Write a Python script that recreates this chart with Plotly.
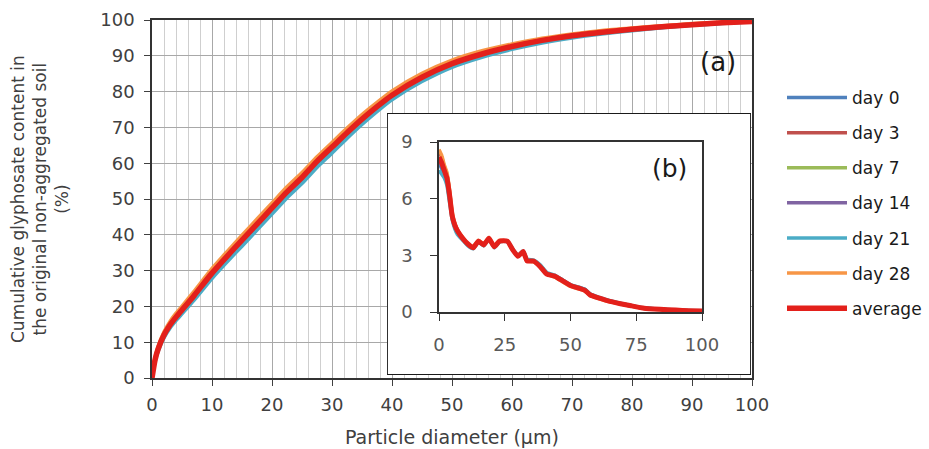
import plotly.graph_objects as go

# ---------------- data ----------------
series_names = ["day 0", "day 3", "day 7", "day 14", "day 21", "day 28", "average"]
series_colors = ["#4F81BD", "#C0504D", "#9BBB59", "#8064A2", "#4BACC6", "#F79646", "#E3201B"]

# (a) cumulative glyphosate content (%) vs particle diameter (um)
diam = [0, 0.5, 1, 2, 3, 4, 5, 7, 10, 12.5, 15, 17.5, 20, 22.5, 25, 27.5, 30, 32.5, 35, 37.5,
        40, 45, 50, 55, 60, 65, 70, 75, 80, 85, 90, 95, 100]
cum_day0 = [0, 4.8, 7.7, 11.6, 14.3, 16.5, 18.4, 22.3, 28.6, 33.2, 37.7, 42.2, 46.7, 51.2, 55.2, 59.7, 63.7,
            67.8, 71.6, 75.1, 78.4, 83.4, 87.3, 90.1, 92.2, 94.0, 95.3, 96.4, 97.2, 97.9, 98.6, 99.1, 99.6]
cum_day3 = [0, 5.3, 8.4, 12.4, 15.2, 17.5, 19.5, 23.6, 29.9, 34.6, 39.2, 43.7, 48.2, 52.7, 56.7, 61.2, 65.2,
            69.1, 72.9, 76.4, 79.6, 84.6, 88.3, 91.0, 93.0, 94.6, 95.9, 96.9, 97.6, 98.3, 98.9, 99.3, 99.7]
cum_day7 = [0, 5.1, 8.1, 12.1, 14.9, 17.1, 19.1, 23.1, 29.4, 34.1, 38.6, 43.1, 47.6, 52.1, 56.1, 60.6, 64.6,
            68.6, 72.4, 75.9, 79.1, 84.1, 87.9, 90.6, 92.7, 94.4, 95.7, 96.7, 97.5, 98.2, 98.8, 99.3, 99.7]
cum_day14 = [0, 5.0, 8.0, 11.9, 14.7, 16.9, 18.9, 22.9, 29.2, 33.9, 38.4, 42.9, 47.4, 51.9, 55.9, 60.4, 64.4,
             68.4, 72.2, 75.7, 78.9, 83.9, 87.7, 90.4, 92.5, 94.2, 95.5, 96.5, 97.3, 98.0, 98.7, 99.2, 99.6]
cum_day21 = [0, 4.5, 7.3, 11.2, 13.9, 16.0, 17.9, 21.7, 27.8, 32.4, 36.8, 41.3, 45.8, 50.3, 54.3, 58.8, 62.8,
             66.9, 70.8, 74.4, 77.7, 82.8, 86.8, 89.6, 91.8, 93.6, 95.0, 96.1, 97.0, 97.8, 98.5, 99.0, 99.5]
cum_day28 = [0, 5.6, 8.8, 12.9, 15.8, 18.1, 20.1, 24.2, 30.6, 35.3, 39.9, 44.4, 48.9, 53.4, 57.4, 61.8, 65.8,
             69.8, 73.6, 77.0, 80.2, 85.1, 88.8, 91.4, 93.3, 94.9, 96.1, 97.1, 97.8, 98.4, 99.0, 99.4, 99.8]
cum_avg = [0, 5.0, 8.0, 12.0, 14.8, 17.0, 19.0, 23.0, 29.3, 34.0, 38.5, 43.0, 47.5, 52.0, 56.0, 60.5, 64.5,
           68.5, 72.3, 75.8, 79.0, 84.0, 87.8, 90.5, 92.6, 94.3, 95.6, 96.6, 97.4, 98.1, 98.7, 99.2, 99.6]

# (b) distribution inset
diam_b = [0, 1, 2, 3, 4, 5, 6, 7, 9, 11, 13, 15, 17, 19, 21, 23, 26, 28, 30, 32, 33.5, 36, 38.5, 41,
          44, 47, 50, 53.5, 55.5, 57.5, 61, 65, 69, 73, 78, 84, 90, 95, 100]
dist_day0 = [7.9, 7.6, 7.3, 6.9, 6.0, 5.0, 4.5, 4.2, 3.85, 3.55, 3.4, 3.7, 3.55, 3.85, 3.45, 3.75, 3.75, 3.3, 2.95, 3.2,
             2.75, 2.7, 2.45, 2.05, 1.9, 1.7, 1.4, 1.3, 1.2, 0.95, 0.75, 0.58, 0.45, 0.34, 0.21, 0.14, 0.1, 0.07, 0.05]
dist_day3 = [8.5, 8.2, 7.7, 7.3, 6.4, 5.2, 4.7, 4.35, 3.9, 3.6, 3.4, 3.75, 3.55, 3.9, 3.45, 3.75, 3.75, 3.3, 2.95, 3.2,
             2.7, 2.7, 2.4, 2.0, 1.9, 1.65, 1.4, 1.25, 1.15, 0.9, 0.73, 0.55, 0.43, 0.32, 0.2, 0.13, 0.1, 0.07, 0.05]
dist_day7 = [8.1, 7.9, 7.5, 7.1, 6.2, 5.1, 4.6, 4.3, 3.9, 3.6, 3.45, 3.75, 3.55, 3.9, 3.45, 3.75, 3.75, 3.3, 2.95, 3.2,
             2.7, 2.7, 2.4, 2.0, 1.9, 1.65, 1.4, 1.25, 1.15, 0.9, 0.72, 0.56, 0.44, 0.33, 0.2, 0.14, 0.1, 0.07, 0.05]
dist_day14 = [8.0, 7.8, 7.4, 7.0, 6.1, 5.05, 4.55, 4.25, 3.9, 3.6, 3.4, 3.7, 3.55, 3.85, 3.45, 3.75, 3.7, 3.3, 2.95, 3.2,
              2.7, 2.7, 2.4, 2.0, 1.9, 1.65, 1.4, 1.25, 1.15, 0.9, 0.73, 0.56, 0.44, 0.33, 0.2, 0.14, 0.1, 0.07, 0.05]
dist_day21 = [7.5, 7.3, 7.1, 6.7, 5.8, 4.9, 4.4, 4.1, 3.8, 3.5, 3.35, 3.7, 3.5, 3.85, 3.4, 3.7, 3.75, 3.35, 3.0, 3.25,
              2.8, 2.75, 2.5, 2.1, 1.95, 1.7, 1.45, 1.3, 1.2, 0.95, 0.77, 0.6, 0.46, 0.35, 0.22, 0.15, 0.11, 0.08, 0.06]
dist_day28 = [8.6, 8.3, 7.8, 7.4, 6.5, 5.3, 4.7, 4.35, 3.95, 3.6, 3.45, 3.8, 3.6, 3.95, 3.5, 3.8, 3.75, 3.3, 2.95, 3.15,
              2.7, 2.65, 2.4, 2.0, 1.85, 1.6, 1.35, 1.2, 1.1, 0.88, 0.7, 0.54, 0.42, 0.31, 0.19, 0.13, 0.09, 0.06, 0.04]
dist_avg = [8.2, 7.9, 7.5, 7.1, 6.2, 5.1, 4.6, 4.3, 3.9, 3.6, 3.4, 3.75, 3.55, 3.9, 3.45, 3.75, 3.75, 3.3, 2.95, 3.2,
            2.7, 2.7, 2.4, 2.0, 1.9, 1.65, 1.4, 1.25, 1.15, 0.9, 0.73, 0.56, 0.44, 0.33, 0.2, 0.14, 0.1, 0.07, 0.05]

main_xticks = [0, 10, 20, 30, 40, 50, 60, 70, 80, 90, 100]
main_yticks = [0, 10, 20, 30, 40, 50, 60, 70, 80, 90, 100]
inset_xticks = [0, 25, 50, 75, 100]
inset_yticks = [0, 3, 6, 9]

cum_series = [cum_day0, cum_day3, cum_day7, cum_day14, cum_day21, cum_day28, cum_avg]
dist_series = [dist_day0, dist_day3, dist_day7, dist_day14, dist_day21, dist_day28, dist_avg]

# ---------------- figure ----------------
W, H = 929, 449
def px_x(p): return p / W
def px_y(p): return 1 - p / H

FONT = "DejaVu Sans"
TXT = "#404040"

fig = go.Figure()

for name, color, ys in zip(series_names, series_colors, cum_series):
    lw = 5.5 if name == "average" else 3.5
    fig.add_trace(go.Scatter(x=diam, y=ys, mode="lines", name=name, legendgroup=name,
                             line=dict(color=color, width=lw, shape="spline", smoothing=0.6),
                             xaxis="x", yaxis="y", hoverinfo="skip"))

# white framed box behind the inset
fig.add_trace(go.Scatter(x=[0, 1, 1, 0, 0], y=[0, 0, 1, 1, 0], mode="lines", fill="toself",
                         fillcolor="white", line=dict(color="#1a1a1a", width=1.8),
                         xaxis="x2", yaxis="y2", showlegend=False, hoverinfo="skip"))

for name, color, ys in zip(series_names, series_colors, dist_series):
    lw = 5 if name == "average" else 3.5
    fig.add_trace(go.Scatter(x=diam_b, y=ys, mode="lines", name=name, legendgroup=name,
                             showlegend=False, line=dict(color=color, width=lw, shape="spline", smoothing=0.4),
                             xaxis="x3", yaxis="y3", hoverinfo="skip"))

tickfont = dict(family=FONT, size=18, color=TXT)
inset_tickfont = dict(family=FONT, size=18, color="#595959")

fig.update_layout(
    width=W, height=H,
    margin=dict(l=0, r=0, t=0, b=0, autoexpand=False),
    paper_bgcolor="white", plot_bgcolor="white",
    xaxis=dict(domain=[px_x(152), px_x(752)], range=[0, 100], tickvals=main_xticks,
               showgrid=True, gridcolor="#a8a8a8", gridwidth=1,
               minor=dict(dtick=2, tick0=0, showgrid=True, gridcolor="#cfcfcf", gridwidth=1),
               ticks="outside", ticklen=6, tickcolor="#404040", ticklabelstandoff=4,
               showline=True, linecolor="#333333", linewidth=1.5, mirror=True,
               zeroline=False, tickfont=tickfont, anchor="y"),
    yaxis=dict(domain=[px_y(378), px_y(20)], range=[0, 100], tickvals=main_yticks,
               showgrid=True, gridcolor="#a8a8a8", gridwidth=1,
               ticks="outside", ticklen=6, tickcolor="#404040", ticklabelstandoff=6,
               showline=True, linecolor="#333333", linewidth=1.5, mirror=True,
               zeroline=False, tickfont=tickfont, anchor="x"),
    xaxis2=dict(domain=[px_x(387), px_x(751)], range=[0, 1], visible=False, anchor="y2", fixedrange=True),
    yaxis2=dict(domain=[px_y(375), px_y(113)], range=[0, 1], visible=False, anchor="x2", fixedrange=True),
    xaxis3=dict(domain=[px_x(439), px_x(702)], range=[0, 100], tickvals=inset_xticks,
                showgrid=False, ticks="outside", ticklen=7, tickcolor="#333333", ticklabelstandoff=9,
                showline=True, linecolor="#333333", linewidth=1.5, mirror=True,
                zeroline=False, tickfont=inset_tickfont, anchor="y3"),
    yaxis3=dict(domain=[px_y(312), px_y(142)], range=[0, 9], tickvals=inset_yticks,
                showgrid=False, ticks="outside", ticklen=7, tickcolor="#333333", ticklabelstandoff=14,
                showline=True, linecolor="#333333", linewidth=1.5, mirror=True,
                zeroline=False, tickfont=inset_tickfont, anchor="x3"),
    legend=dict(x=px_x(782), y=px_y(80), xanchor="left", yanchor="top",
                font=dict(family=FONT, size=17, color="#1a1a1a"), itemwidth=60,
                tracegroupgap=10, bgcolor="rgba(0,0,0,0)", borderwidth=0),
    showlegend=True,
)

fig.add_annotation(text="Cumulative glyphosate content in<br>the original non-aggregated soil<br>(%)",
                   xref="paper", yref="paper", x=px_x(40), y=px_y(199), xanchor="center", yanchor="middle",
                   textangle=-90, showarrow=False, font=dict(family=FONT, size=17, color=TXT))
fig.add_annotation(text="Particle diameter (μm)", xref="paper", yref="paper", x=px_x(452), y=px_y(437),
                   xanchor="center", yanchor="middle", showarrow=False,
                   font=dict(family=FONT, size=19, color=TXT))
fig.add_annotation(text="(a)", xref="paper", yref="paper", x=px_x(718), y=px_y(62),
                   xanchor="center", yanchor="middle", showarrow=False,
                   font=dict(family=FONT, size=26, color="#1a1a1a"))
fig.add_annotation(text="(b)", xref="paper", yref="paper", x=px_x(669), y=px_y(168),
                   xanchor="center", yanchor="middle", showarrow=False,
                   font=dict(family=FONT, size=25, color="#1a1a1a"))

fig.write_html("out.html")
